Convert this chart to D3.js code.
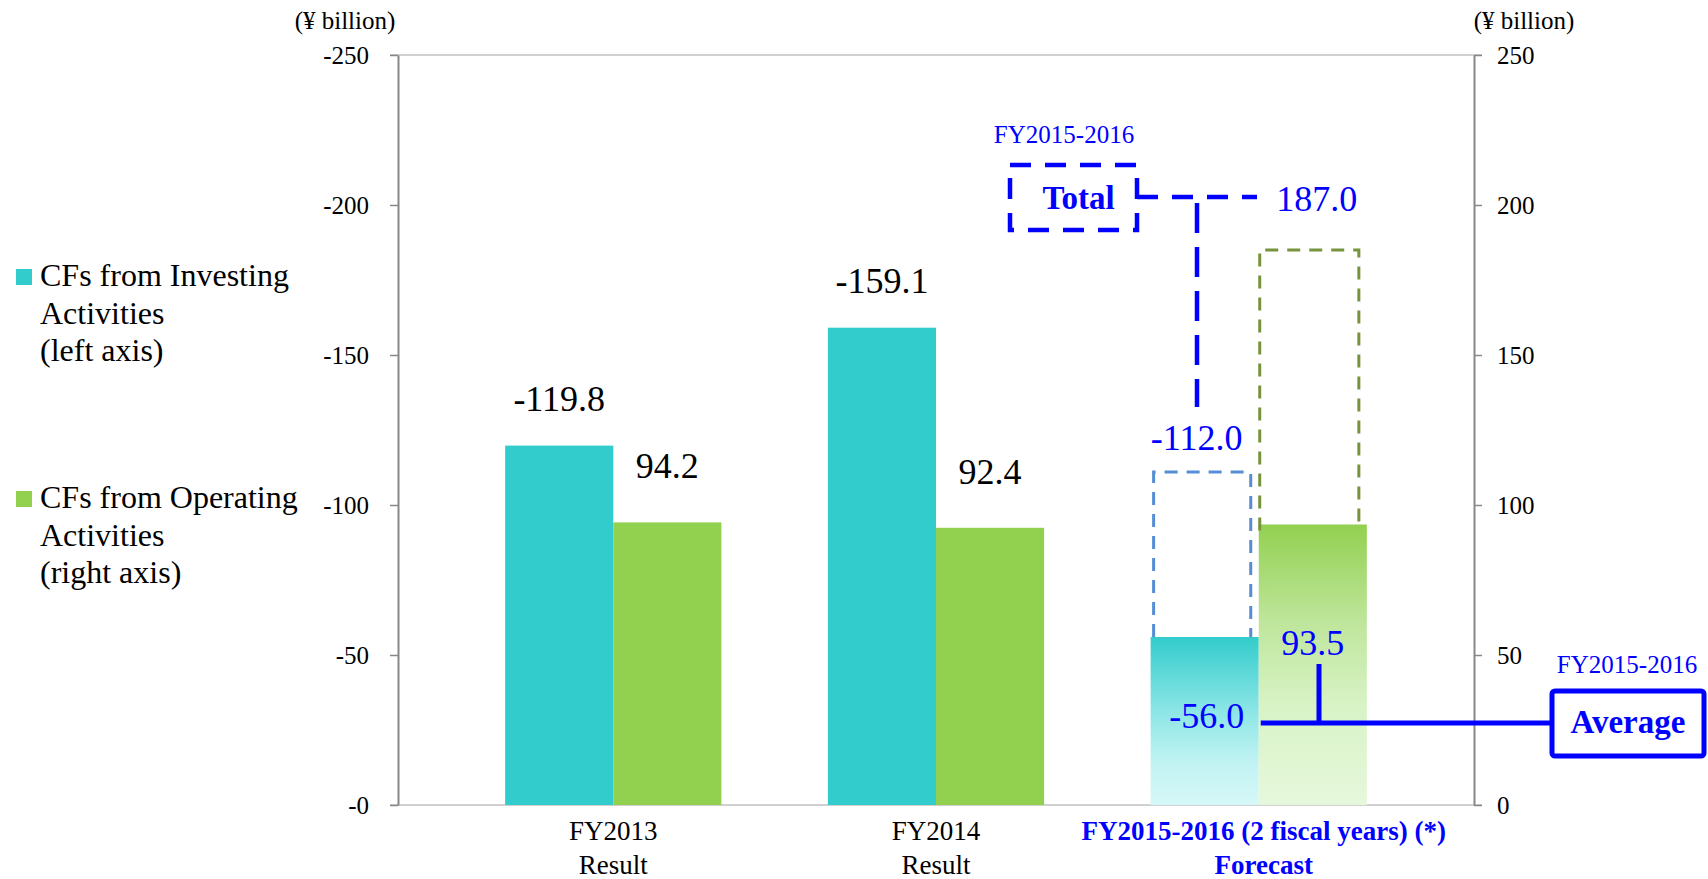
<!DOCTYPE html>
<html><head><meta charset="utf-8">
<script src="https://cdn.jsdelivr.net/npm/d3@7"></script>
<style>
body{margin:0;background:#fff}
svg{display:block}
text{font-family:"Liberation Serif","Times New Roman",serif}
</style>
</head><body>
<svg id="c" width="1708" height="879"></svg>
<script>
// ---------- data ----------
const categories = ["FY2013", "FY2014", "FY2015-2016 (2 fiscal years) (*)"];
const subLabels = ["Result", "Result", "Forecast"];
const investing = [-119.8, -159.1, -56.0];   // left axis
const operating = [94.2, 92.4, 93.5];        // right axis
const forecastTotalInvesting = -112.0;
const forecastTotalOperating = 187.0;
const leftTicks = [0, -50, -100, -150, -200, -250];
const rightTicks = [0, 50, 100, 150, 200, 250];
const unitLabel = "(¥ billion)";
const legendInvesting = ["CFs from Investing", "Activities", "(left axis)"];
const legendOperating = ["CFs from Operating", "Activities", "(right axis)"];
const periodLabel = "FY2015-2016";
const totalLabel = "Total";
const averageLabel = "Average";

// ---------- layout ----------
const svg = d3.select("#c");
const L = 398, R = 1474, T = 55, B = 805;
const CYAN = "#33CCCC", GREEN = "#92D050", BLUE = "#0000FF";
const fmt = d3.formatLocale({decimal: ".", thousands: ",", grouping: [3], currency: ["", ""], minus: "-"}).format(".1f");

const x = d3.scaleBand().domain(categories).range([L, R]).paddingInner(0.33).paddingOuter(0.332);
const sub = d3.scaleBand().domain(["inv", "op"]).range([0, x.bandwidth()]);
const yL = d3.scaleLinear().domain([0, -250]).range([B, T]);
const yR = d3.scaleLinear().domain([0, 250]).range([B, T]);

// gradients
const defs = svg.append("defs");
function grad(id, stops) {
  const g = defs.append("linearGradient").attr("id", id).attr("x1", 0).attr("y1", 0).attr("x2", 0).attr("y2", 1);
  stops.forEach(s => g.append("stop").attr("offset", s[0]).attr("stop-color", s[1]));
}
grad("gC", [[0, "#33CCCC"], [0.45, "#8EE6E6"], [0.75, "#C2F3F3"], [1, "#D6F7F7"]]);
grad("gG", [[0, "#92D050"], [0.35, "#BFE69C"], [0.65, "#D8F3C6"], [1, "#E6F8DC"]]);

// frame lines (top & bottom)
svg.append("line").attr("x1", L - 8).attr("x2", R + 8).attr("y1", T).attr("y2", T)
  .attr("stroke", "#C0C0C0").attr("stroke-width", 1.5);
svg.append("line").attr("x1", L - 8).attr("x2", R + 8).attr("y1", B).attr("y2", B)
  .attr("stroke", "#C0C0C0").attr("stroke-width", 1.5);

// axes
const axL = svg.append("g").attr("transform", `translate(${L},0)`)
  .call(d3.axisLeft(yL).tickValues(leftTicks).tickSize(8).tickSizeOuter(0).tickPadding(21)
    .tickFormat(d => d === 0 ? "-0" : String(d)));
const axR = svg.append("g").attr("transform", `translate(${R},0)`)
  .call(d3.axisRight(yR).tickValues(rightTicks).tickSize(8).tickSizeOuter(0).tickPadding(15)
    .tickFormat(d => String(d)));
[axL, axR].forEach(a => {
  a.select(".domain").attr("stroke", "#888").attr("stroke-width", 2);
  a.selectAll(".tick line").attr("stroke", "#888").attr("stroke-width", 1.5);
  a.selectAll(".tick text").attr("font-size", 25).attr("fill", "#000")
    .attr("font-family", "'Liberation Serif', serif");
});

svg.append("text").attr("x", 345).attr("y", 29).attr("text-anchor", "middle")
  .attr("font-size", 25).text(unitLabel);
svg.append("text").attr("x", 1524).attr("y", 29).attr("text-anchor", "middle")
  .attr("font-size", 25).text(unitLabel);

// bars
const last = categories.length - 1;
svg.append("g").selectAll("rect").data(categories).join("rect")
  .attr("x", d => x(d) + sub("inv"))
  .attr("width", sub.bandwidth())
  .attr("y", (d, i) => yL(investing[i]))
  .attr("height", (d, i) => B - yL(investing[i]))
  .attr("fill", (d, i) => i === last ? "url(#gC)" : CYAN);
svg.append("g").selectAll("rect").data(categories).join("rect")
  .attr("x", d => x(d) + sub("op"))
  .attr("width", sub.bandwidth())
  .attr("y", (d, i) => yR(operating[i]))
  .attr("height", (d, i) => B - yR(operating[i]))
  .attr("fill", (d, i) => i === last ? "url(#gG)" : GREEN);

// data labels for result years
const cInv = d => x(d) + sub("inv") + sub.bandwidth() / 2;
const cOp = d => x(d) + sub("op") + sub.bandwidth() / 2;
categories.slice(0, last).forEach((d, i) => {
  svg.append("text").attr("x", cInv(d)).attr("y", yL(investing[i]) - 35)
    .attr("text-anchor", "middle").attr("font-size", 36).text(fmt(investing[i]));
  svg.append("text").attr("x", cOp(d)).attr("y", yR(operating[i]) - 44)
    .attr("text-anchor", "middle").attr("font-size", 36).text(fmt(operating[i]));
});

// forecast dashed totals
const fc = categories[last];
const bw = sub.bandwidth();
const xi0 = x(fc) + sub("inv") + 3, xi1 = x(fc) + sub("inv") + bw - 8;
svg.append("path")
  .attr("d", `M${xi0},${yL(investing[last])}V${yL(forecastTotalInvesting) + 3}H${xi1}V${yL(investing[last])}`)
  .attr("fill", "none").attr("stroke", "#558ED5").attr("stroke-width", 3).attr("stroke-dasharray", "13 9");
const xo0 = x(fc) + sub("op") + 1, xo1 = x(fc) + sub("op") + bw - 8;
svg.append("path")
  .attr("d", `M${xo0},${yR(operating[last]) + 6}V${yR(forecastTotalOperating) + 6}H${xo1}V${yR(operating[last]) + 6}`)
  .attr("fill", "none").attr("stroke", "#77933C").attr("stroke-width", 3).attr("stroke-dasharray", "13 9");

// forecast labels
svg.append("text").attr("x", cInv(fc) - 8).attr("y", yL(forecastTotalInvesting) - 19)
  .attr("text-anchor", "middle").attr("font-size", 36).attr("fill", BLUE).text(fmt(forecastTotalInvesting));
svg.append("text").attr("x", cOp(fc) + 4).attr("y", yR(forecastTotalOperating) - 33)
  .attr("text-anchor", "middle").attr("font-size", 36).attr("fill", BLUE).text(fmt(forecastTotalOperating));
svg.append("text").attr("x", cInv(fc) + 2).attr("y", yL(investing[last]) + 91)
  .attr("text-anchor", "middle").attr("font-size", 36).attr("fill", BLUE).text(fmt(investing[last]));
svg.append("text").attr("x", cOp(fc)).attr("y", yR(operating[last]) + 130)
  .attr("text-anchor", "middle").attr("font-size", 36).attr("fill", BLUE).text(fmt(operating[last]));

// Total callout
const tb = {x: 1010, y: 165, w: 127, h: 65};
svg.append("rect").attr("x", tb.x).attr("y", tb.y).attr("width", tb.w).attr("height", tb.h)
  .attr("fill", "none").attr("stroke", BLUE).attr("stroke-width", 4.5).attr("stroke-dasharray", "21 14");
svg.append("text").attr("x", tb.x + tb.w / 2 + 5).attr("y", 209).attr("text-anchor", "middle")
  .attr("font-size", 33).attr("font-weight", "bold").attr("fill", BLUE).text(totalLabel);
svg.append("text").attr("x", 1064).attr("y", 143).attr("text-anchor", "middle")
  .attr("font-size", 25).attr("fill", BLUE).text(periodLabel);
const tY = 197, tX = 1197;
svg.append("line").attr("x1", tb.x + tb.w).attr("x2", 1257).attr("y1", tY).attr("y2", tY)
  .attr("stroke", BLUE).attr("stroke-width", 4.5).attr("stroke-dasharray", "21 14");
svg.append("line").attr("x1", tX).attr("x2", tX).attr("y1", tY + 6).attr("y2", 407)
  .attr("stroke", BLUE).attr("stroke-width", 4.5).attr("stroke-dasharray", "30 14");

// Average callout
const aY = 723;
svg.append("line").attr("x1", x(fc) + sub("op") + 2).attr("x2", 1552).attr("y1", aY).attr("y2", aY)
  .attr("stroke", BLUE).attr("stroke-width", 5);
svg.append("line").attr("x1", 1319).attr("x2", 1319).attr("y1", 664).attr("y2", aY)
  .attr("stroke", BLUE).attr("stroke-width", 5);
svg.append("rect").attr("x", 1552).attr("y", 691).attr("width", 152).attr("height", 65).attr("rx", 3)
  .attr("fill", "#fff").attr("stroke", BLUE).attr("stroke-width", 5);
svg.append("text").attr("x", 1628).attr("y", 733).attr("text-anchor", "middle")
  .attr("font-size", 33).attr("font-weight", "bold").attr("fill", BLUE).text(averageLabel);
svg.append("text").attr("x", 1627).attr("y", 673).attr("text-anchor", "middle")
  .attr("font-size", 25).attr("fill", BLUE).text(periodLabel);

// x labels
categories.forEach((d, i) => {
  const cx = x(d) + x.bandwidth() / 2 + (i === last ? 5 : 0);
  const isF = i === last;
  svg.append("text").attr("x", cx).attr("y", 840).attr("text-anchor", "middle")
    .attr("font-size", 27).attr("fill", isF ? BLUE : "#000").attr("font-weight", isF ? "bold" : "normal").text(d);
  svg.append("text").attr("x", cx).attr("y", 874).attr("text-anchor", "middle")
    .attr("font-size", 27).attr("fill", isF ? BLUE : "#000").attr("font-weight", isF ? "bold" : "normal").text(subLabels[i]);
});

// legend
function legend(lines, color, top) {
  svg.append("rect").attr("x", 16).attr("y", top - 17).attr("width", 16).attr("height", 16).attr("fill", color);
  lines.forEach((t, k) => svg.append("text").attr("x", 40).attr("y", top + k * 37.5)
    .attr("font-size", 32).attr("fill", "#000").text(t));
}
legend(legendInvesting, CYAN, 286);
legend(legendOperating, GREEN, 508);
</script>
</body></html>
